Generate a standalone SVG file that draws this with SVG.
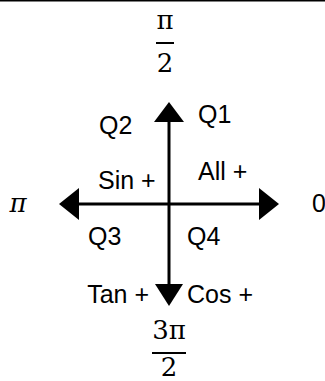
<svg xmlns="http://www.w3.org/2000/svg" width="325" height="381" viewBox="0 0 325 381">
<style>
.lbl{font-family:"Liberation Sans",Arial,sans-serif;font-size:25px;fill:#000}
.math{font-family:"DejaVu Serif","Liberation Serif",serif;font-size:26px;fill:#000;text-anchor:middle}
.ax{stroke:#000;stroke-width:3;fill:none}
.bar{stroke:#000;stroke-width:2}
</style>
<rect x="0" y="0" width="325" height="1.5" fill="#000"/>
<g id="connectors">
<line class="ax" x1="169" y1="120" x2="169" y2="286"/>
<line class="ax" x1="77" y1="204" x2="261" y2="204"/>
<polygon points="169,102 154,122 184,122" fill="#000"/>
<polygon points="169,306 155,284 183,284" fill="#000"/>
<polygon points="59,204 79,188 79,220" fill="#000"/>
<polygon points="279,204 259,188 259,220" fill="#000"/>
</g>
<g id="top-label">
<text class="math" x="165" y="29">π</text>
<line class="bar" x1="156" y1="43" x2="174" y2="43"/>
<text class="math" x="165" y="72">2</text>
</g>
<g id="bottom-label">
<text class="math" x="169" y="339">3π</text>
<line class="bar" x1="152" y1="353" x2="186" y2="353"/>
<text class="math" x="169" y="376">2</text>
</g>
<g id="left-label"><text class="math" x="18" y="212" font-style="italic">π</text></g>
<g id="right-label"><text class="lbl" x="312" y="212">0</text></g>
<g id="q1"><text class="lbl" x="198" y="123">Q1</text></g>
<g id="q2"><text class="lbl" x="99" y="134">Q2</text></g>
<g id="q3"><text class="lbl" x="88" y="245">Q3</text></g>
<g id="q4"><text class="lbl" x="187" y="245">Q4</text></g>
<g id="sin"><text class="lbl" x="98" y="189">Sin +</text></g>
<g id="all"><text class="lbl" x="198" y="180">All +</text></g>
<g id="tan"><text class="lbl" x="149" y="303" text-anchor="end">Tan +</text></g>
<g id="cos"><text class="lbl" x="187" y="303">Cos +</text></g>
</svg>
